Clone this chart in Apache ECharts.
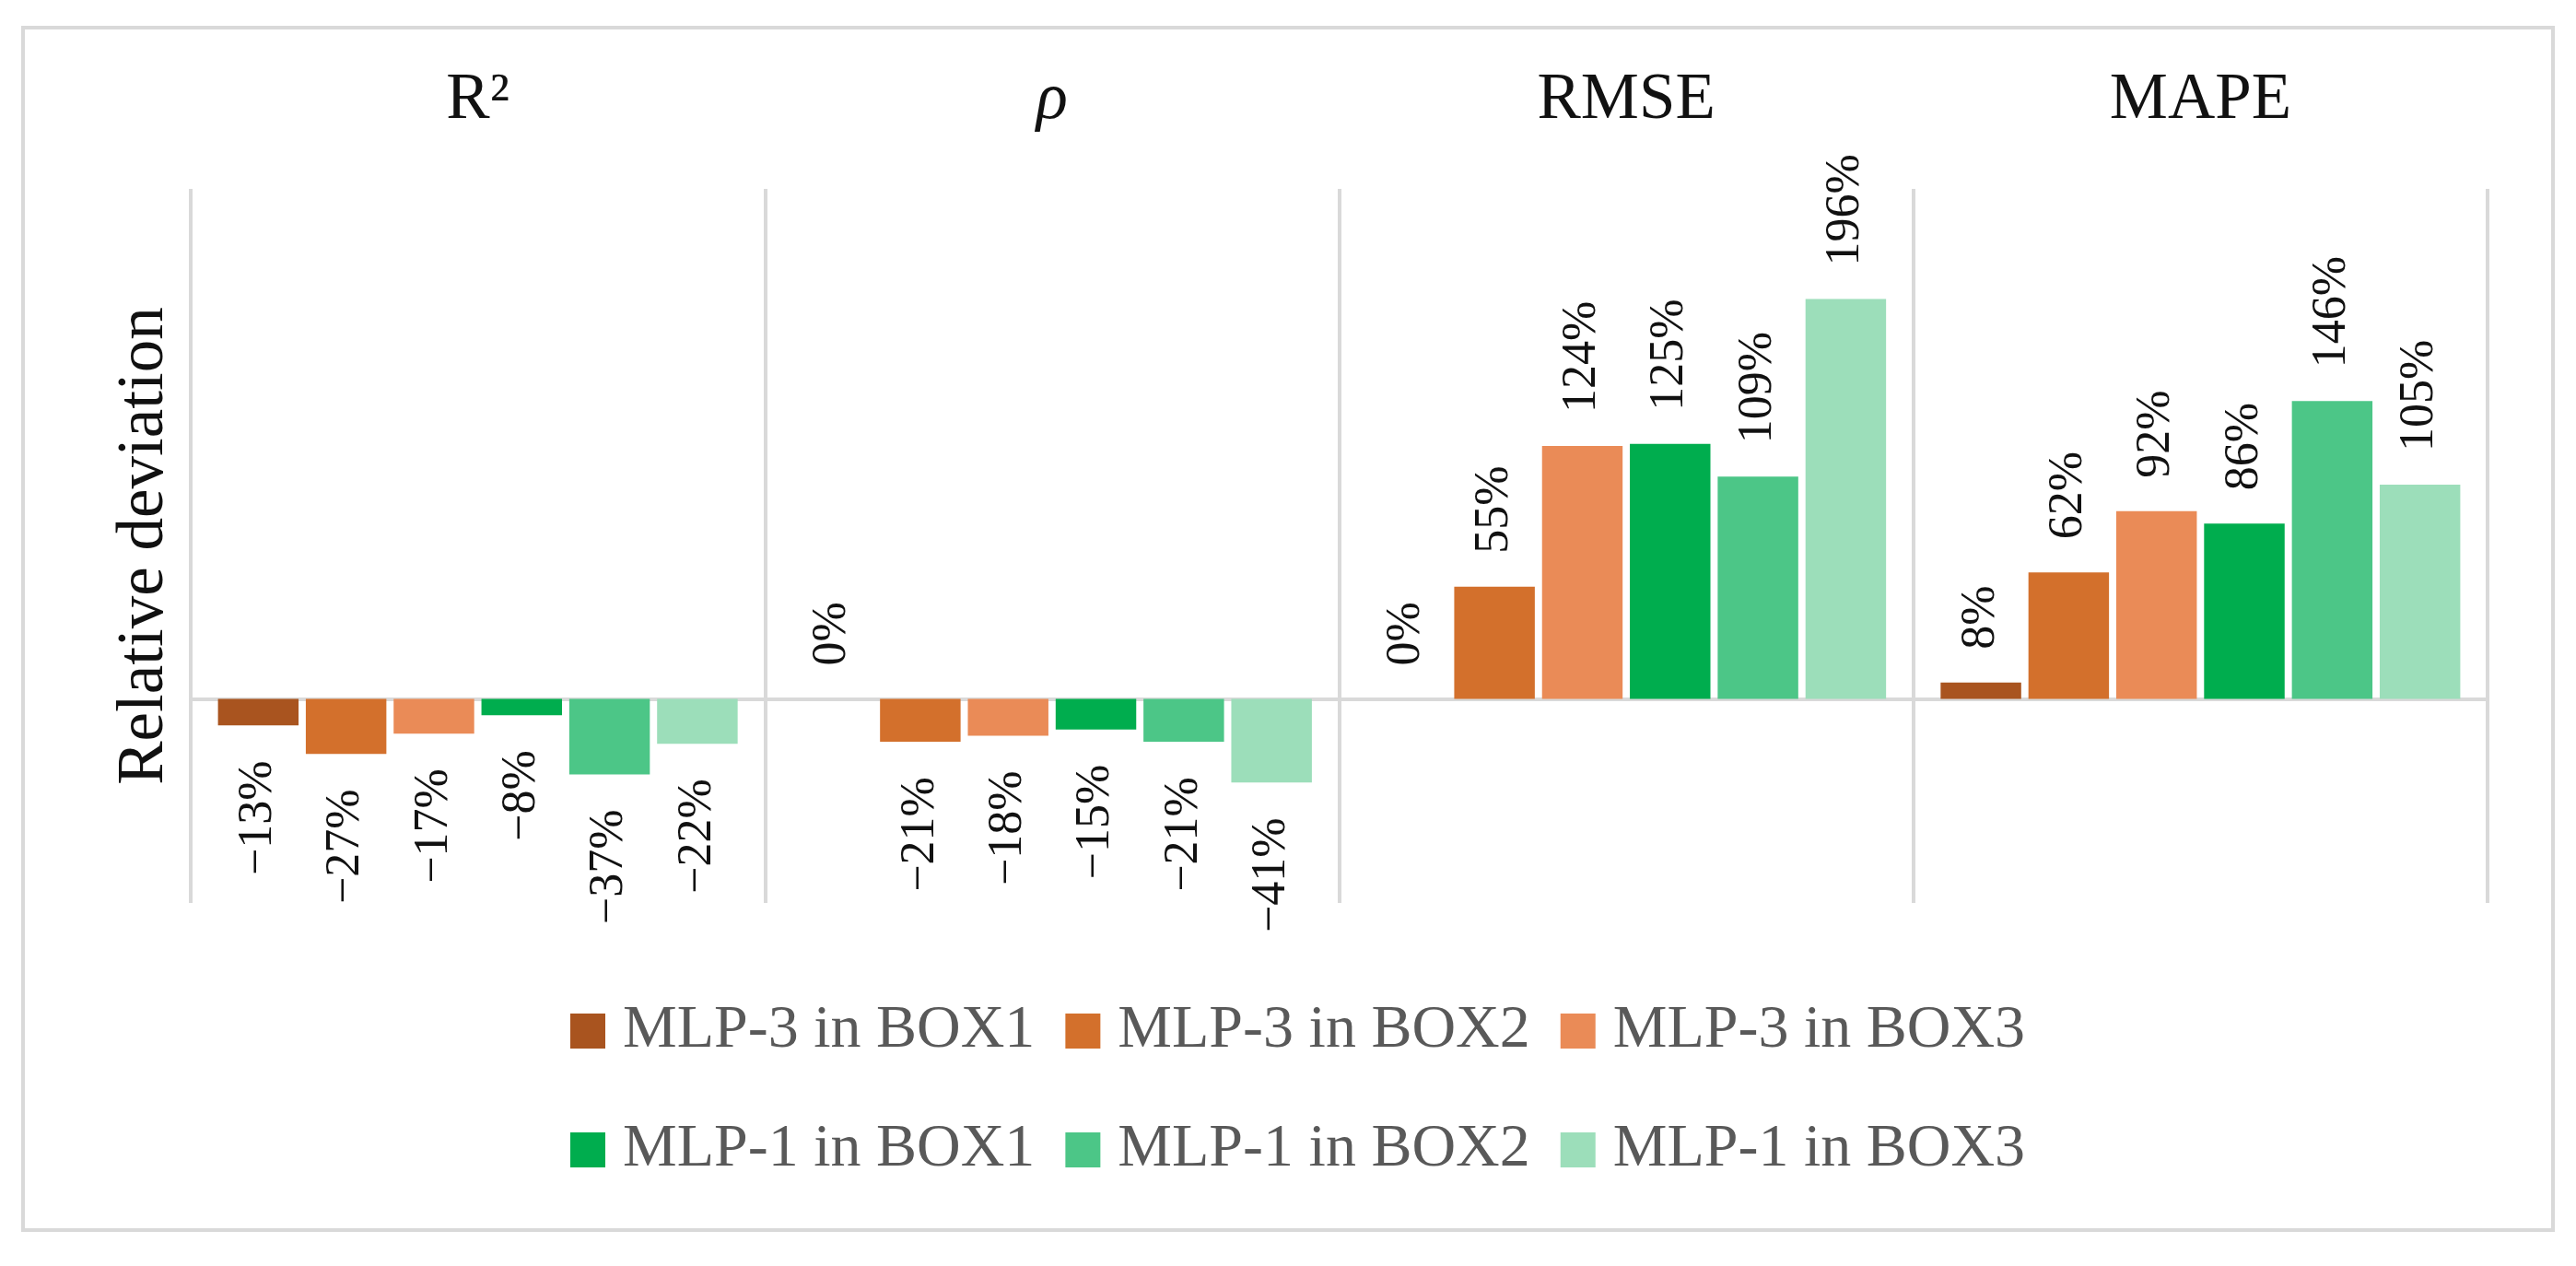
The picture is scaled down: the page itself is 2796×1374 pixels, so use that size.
<!DOCTYPE html>
<html>
<head>
<meta charset="utf-8">
<script src="https://cdn.jsdelivr.net/npm/echarts@6/dist/echarts.min.js"></script>
<style>
html,body{margin:0;padding:0;background:#fff;}
#chart{width:2796px;height:1374px;}
</style>
</head>
<body>
<div id="chart"></div>
<script>
const categories = ['R²', 'ρ', 'RMSE', 'MAPE'];
const seriesNames = ['MLP-3 in BOX1', 'MLP-3 in BOX2', 'MLP-3 in BOX3', 'MLP-1 in BOX1', 'MLP-1 in BOX2', 'MLP-1 in BOX3'];
const mlp3Box1 = [-13, 0, 0, 8];
const mlp3Box2 = [-27, -21, 55, 62];
const mlp3Box3 = [-17, -18, 124, 92];
const mlp1Box1 = [-8, -15, 125, 86];
const mlp1Box2 = [-37, -21, 109, 146];
const mlp1Box3 = [-22, -41, 196, 105];
const colors = ['#a9541f', '#d3702c', '#ea8b57', '#00ad4e', '#4cc687', '#9cdeba'];

const allValues = [mlp3Box1, mlp3Box2, mlp3Box3, mlp1Box1, mlp1Box2, mlp1Box3];
const labelFont = 'Liberation Serif, Times New Roman, serif';

function fmt(v) { return (v < 0 ? '\u2212' : '') + Math.abs(v) + '%'; }

const posLabel = { show: true, position: 'top', rotate: 90, align: 'left', verticalAlign: 'middle', distance: 36 };
const negLabel = { show: true, position: 'bottom', rotate: 90, align: 'right', verticalAlign: 'middle', distance: 38 };

const series = allValues.map((vals, i) => ({
  name: seriesNames[i],
  type: 'bar',
  xAxisIndex: 0,
  barGap: '9%',
  barCategoryGap: '9.5%',
  itemStyle: { color: colors[i] },
  label: {
    show: true,
    fontFamily: labelFont,
    fontSize: 52,
    color: '#111',
    formatter: p => fmt(p.value)
  },
  data: vals.map(v => ({ value: v, label: v < 0 ? negLabel : posLabel }))
}));

const chart = echarts.init(document.getElementById('chart'), null, { renderer: 'canvas' });
chart.setOption({
  animation: false,
  backgroundColor: '#fff',
  graphic: [{
    type: 'rect',
    shape: { x: 25, y: 30, width: 2746, height: 1305 },
    style: { fill: null, stroke: '#d9d9d9', lineWidth: 4 },
    z: -1
  }],
  grid: { left: 207, right: 96, top: 205, bottom: 394, containLabel: false },
  legend: [
    {
      data: seriesNames.slice(0, 3),
      left: 619, top: 1086, padding: 0,
      itemWidth: 38, itemHeight: 38, itemGap: 33,
      icon: 'rect',
      textStyle: { fontFamily: labelFont, fontSize: 66, color: '#595959', padding: [0, 0, 0, 14] }
    },
    {
      data: seriesNames.slice(3, 6),
      left: 619, top: 1215, padding: 0,
      itemWidth: 38, itemHeight: 38, itemGap: 33,
      icon: 'rect',
      textStyle: { fontFamily: labelFont, fontSize: 66, color: '#595959', padding: [0, 0, 0, 14] }
    }
  ],
  xAxis: [
    {
      type: 'category',
      data: categories,
      position: 'top',
      boundaryGap: true,
      axisLine: { show: false, onZero: false },
      axisTick: { show: false },
      axisLabel: {
        show: true,
        margin: 60,
        fontFamily: labelFont,
        fontSize: 71,
        color: '#111',
        formatter: v => v === 'ρ' ? '{i|ρ}' : v,
        rich: { i: { fontFamily: labelFont, fontSize: 71, fontStyle: 'italic', color: '#111' } }
      },
      splitLine: { show: true, lineStyle: { color: '#d9d9d9', width: 4 } }
    },
    {
      type: 'category',
      data: categories,
      position: 'bottom',
      boundaryGap: true,
      axisLine: { show: true, onZero: true, lineStyle: { color: '#d9d9d9', width: 4 } },
      axisTick: { show: false },
      axisLabel: { show: false },
      splitLine: { show: false }
    }
  ],
  yAxis: {
    type: 'value',
    min: -100,
    max: 250,
    interval: 50,
    axisLine: { show: false },
    axisTick: { show: false },
    axisLabel: { show: false },
    splitLine: { show: false },
    name: 'Relative deviation',
    nameLocation: 'middle',
    nameGap: 14,
    nameTextStyle: { fontFamily: labelFont, fontSize: 71, color: '#111' }
  },
  series: series
});
</script>
</body>
</html>
